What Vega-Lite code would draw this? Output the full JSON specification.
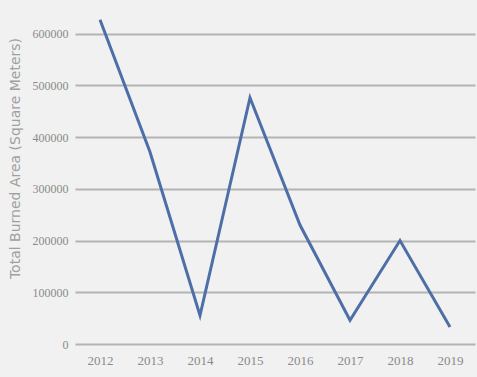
{
  "$schema": "https://vega.github.io/schema/vega-lite/v6.json",
  "width": 400,
  "height": 344,
  "autosize": "none",
  "padding": {"left": 75, "top": 0, "right": 2, "bottom": 33},
  "background": "#f1f1f1",
  "config": {"view": {"stroke": null}, "font": "Liberation Sans"},
  "data": {"values": [
    {"year": "2012", "area": 627000},
    {"year": "2013", "area": 371000},
    {"year": "2014", "area": 55000},
    {"year": "2015", "area": 476000},
    {"year": "2016", "area": 230000},
    {"year": "2017", "area": 46000},
    {"year": "2018", "area": 200000},
    {"year": "2019", "area": 33000}
  ]},
  "mark": {"type": "line", "color": "#4e6ea8", "strokeWidth": 3},
  "encoding": {
    "x": {"field": "year", "type": "ordinal", "scale": {"type": "point", "padding": 0.5},
      "axis": {"title": null, "labelAngle": 0, "domain": false, "ticks": false, "labelPadding": 10, "labelFontSize": 13, "labelColor": "#8a8a8a", "labelFont": "Liberation Sans Narrow"}},
    "y": {"field": "area", "type": "quantitative", "scale": {"domain": [0, 665000], "nice": false},
      "axis": {"title": "Total Burned Area (Square Meters)", "values": [0, 100000, 200000, 300000, 400000, 500000, 600000], "format": "d",
        "domain": false, "ticks": false, "labelPadding": 7, "labelFontSize": 12, "labelColor": "#8a8a8a", "labelFont": "Liberation Sans Narrow",
        "gridColor": "#b4b4b4", "gridWidth": 2,
        "titleColor": "#a0a0a0", "titleFont": "DejaVu Sans", "titleFontSize": 14, "titleFontWeight": "normal", "titleX": -60, "titleY": 158, "titleAngle": -90, "titleAlign": "center", "titleBaseline": "middle"}}
  }
}
